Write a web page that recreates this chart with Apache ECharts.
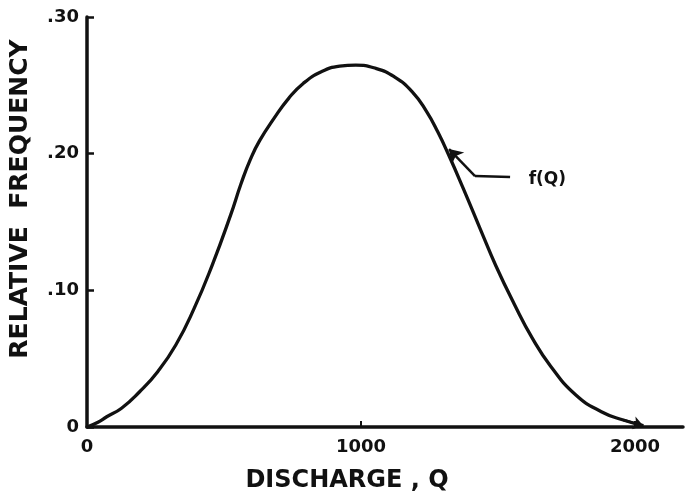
<!DOCTYPE html>
<html>
<head>
<meta charset="utf-8">
<title>Relative frequency of discharge</title>
<script src="https://cdn.jsdelivr.net/npm/echarts@6/dist/echarts.min.js"></script>
<style>
  html, body { margin: 0; padding: 0; background: #fff; }
  #chart { width: 687px; height: 497px; }
</style>
</head>
<body>
<div id="chart"></div>
<script>
// Discharge Q and relative frequency f(Q) along the curve
const dischargeQ = [0, 40, 72, 126, 192, 258, 324, 391, 457, 524, 563, 597, 630, 683, 736, 789, 855, 922, 981,
  1054, 1121, 1187, 1240, 1280, 1320, 1373, 1436, 1492, 1559, 1625, 1692, 1784, 1877, 1957, 2030];
const relFreq = [0, 0.0035, 0.0075, 0.0137, 0.0258, 0.0405, 0.060, 0.0868, 0.1185, 0.155, 0.1785, 0.1962, 0.2095,
  0.226, 0.2405, 0.2514, 0.2599, 0.264, 0.2648, 0.2624, 0.2563, 0.2453, 0.2306, 0.216, 0.199, 0.1746,
  0.1445, 0.118, 0.090, 0.065, 0.0445, 0.0234, 0.0112, 0.0051, 0.001];

// Axis ticks and labels
const xTickValues = [0, 1000, 2000];
const yTickValues = [0, 0.1, 0.2, 0.3];
const yTickLabels = ['0', '.10', '.20', '.30'];
const xTitle = 'DISCHARGE , Q';
const yTitle = 'RELATIVE  FREQUENCY';

// Leader to the curve label (data units)
const curveName = 'f(Q)';
const leaderRight = [1544, 0.183];
const leaderElbow = [1416, 0.1836];
const leaderTip = [1321, 0.2034];
const curveNameAt = [1610, 0.1807];

const ink = '#111';
const fontFamily = '"DejaVu Sans", sans-serif';

const chart = echarts.init(document.getElementById('chart'), null, { renderer: 'canvas' });

const curve = dischargeQ.map((q, i) => [q, relFreq[i]]);
const n = curve.length;

chart.setOption({
  animation: false,
  backgroundColor: '#fff',
  grid: { left: 87, right: 4, top: 17, bottom: 70, containLabel: false },
  xAxis: {
    type: 'value',
    min: 0,
    max: 2175,
    axisLine: { show: true, lineStyle: { color: ink, width: 3.5 } },
    axisTick: { show: true, inside: true, length: 6, customValues: [1000, 2000], lineStyle: { color: ink, width: 2 } },
    axisLabel: {
      show: true, customValues: xTickValues, margin: 11,
      color: ink, fontFamily, fontWeight: 'bold', fontSize: 18,
      formatter: (v) => String(Math.round(v))
    },
    splitLine: { show: false }
  },
  yAxis: {
    type: 'value',
    min: 0,
    max: 0.3,
    interval: 0.1,
    axisLine: { show: true, lineStyle: { color: ink, width: 3.5 } },
    axisTick: { show: true, inside: true, length: 7, lineStyle: { color: ink, width: 2.5 } },
    axisLabel: {
      show: true, margin: 8,
      color: ink, fontFamily, fontWeight: 'bold', fontSize: 18,
      formatter: (v) => {
        const k = yTickValues.findIndex((t) => Math.abs(t - v) < 1e-9);
        return k >= 0 ? yTickLabels[k] : '';
      }
    },
    splitLine: { show: false }
  },
  graphic: [
    {
      type: 'text',
      style: {
        text: xTitle, x: 347, y: 481, align: 'center', verticalAlign: 'middle',
        fill: ink, font: 'bold 24px ' + fontFamily
      }
    },
    {
      type: 'text', x: 20, y: 199, rotation: Math.PI / 2,
      style: {
        text: yTitle, x: 0, y: 0, align: 'center', verticalAlign: 'middle',
        fill: ink, font: 'bold 25px ' + fontFamily
      }
    }
  ],
  series: [
    {
      type: 'line',
      data: curve,
      smooth: 0.5,
      showSymbol: false,
      lineStyle: { color: ink, width: 3.3 },
      markLine: {
        silent: true,
        animation: false,
        label: { show: false },
        lineStyle: { color: ink, width: 2.5, type: 'solid' },
        data: [
          [{ coord: leaderRight, symbol: 'none' }, { coord: leaderElbow, symbol: 'none' }],
          [{ coord: leaderElbow, symbol: 'none' }, { coord: leaderTip, symbol: 'arrow', symbolSize: 13 }],
          [{ coord: curve[n - 2], symbol: 'none' }, { coord: curve[n - 1], symbol: 'arrow', symbolSize: 10 }]
        ]
      },
      markPoint: {
        silent: true,
        animation: false,
        symbol: 'circle',
        symbolSize: 1,
        itemStyle: { color: 'rgba(0,0,0,0)' },
        label: {
          show: true, position: 'right', distance: 0,
          color: ink, fontFamily, fontWeight: 'bold', fontSize: 17,
          formatter: () => curveName
        },
        data: [{ coord: curveNameAt }]
      }
    }
  ]
});
</script>
</body>
</html>
